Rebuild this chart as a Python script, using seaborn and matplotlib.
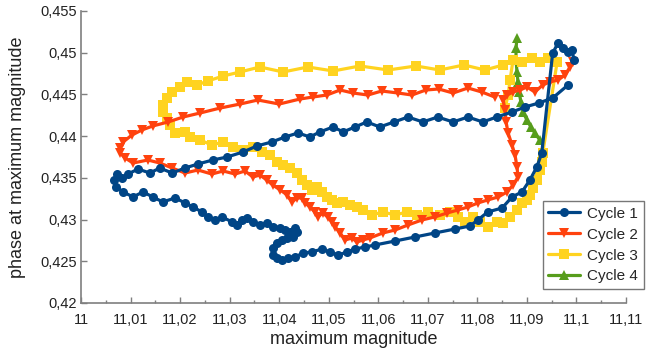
import numpy as np
import pandas as pd
import matplotlib
matplotlib.use("Agg")
import matplotlib.pyplot as plt
import seaborn as sns
from matplotlib.ticker import MultipleLocator, FuncFormatter

sns.set_theme(style="white")
plt.rcParams['font.family'] = ['Liberation Sans', 'DejaVu Sans']

# ---- data ----
cycle1_mag = [11.0983, 11.0952, 11.0924, 11.0896, 11.0870, 11.0839, 11.0811, 11.0781, 11.0751, 11.0720,
              11.0690, 11.0660, 11.0632, 11.0603, 11.0577, 11.0553, 11.0529, 11.0509, 11.0482, 11.0462,
              11.0438, 11.0412, 11.0385, 11.0355, 11.0327, 11.0295, 11.0266, 11.0236, 11.0210, 11.0184,
              11.0159, 11.0139, 11.0115, 11.0095, 11.0083, 11.0073, 11.0067, 11.0071, 11.0085, 11.0105,
              11.0125, 11.0145, 11.0165, 11.0190, 11.0210, 11.0226, 11.0244, 11.0256, 11.0270, 11.0285,
              11.0305, 11.0315, 11.0325, 11.0335, 11.0347, 11.0361, 11.0375, 11.0387, 11.0402, 11.0412,
              11.0422, 11.0432, 11.0436, 11.0428, 11.0416, 11.0406, 11.0396, 11.0387, 11.0387, 11.0396,
              11.0406, 11.0418, 11.0432, 11.0448, 11.0466, 11.0486, 11.0502, 11.0519, 11.0537, 11.0553,
              11.0573, 11.0593, 11.0634, 11.0674, 11.0714, 11.0755, 11.0785, 11.0801, 11.0821, 11.0850,
              11.0870, 11.0890, 11.0906, 11.0920, 11.0930, 11.0952, 11.0963, 11.0973, 11.0983, 11.0991,
              11.0995]
cycle1_phase = [0.44613, 0.44457, 0.44397, 0.44349, 0.44289, 0.44229, 0.44170, 0.44229, 0.44170, 0.44229,
                0.44170, 0.44229, 0.44170, 0.44110, 0.44170, 0.44110, 0.44050, 0.44110, 0.44050, 0.43990,
                0.44038, 0.43990, 0.43930, 0.43882, 0.43810, 0.43750, 0.43714, 0.43666, 0.43618, 0.43558,
                0.43618, 0.43558, 0.43606, 0.43546, 0.43498, 0.43546, 0.43474, 0.43390, 0.43331, 0.43271,
                0.43331, 0.43271, 0.43211, 0.43259, 0.43199, 0.43151, 0.43091, 0.43031, 0.42995, 0.43031,
                0.42971, 0.42935, 0.42995, 0.43019, 0.42971, 0.42935, 0.42959, 0.42911, 0.42899, 0.42875,
                0.42851, 0.42899, 0.42851, 0.42791, 0.42779, 0.42755, 0.42719, 0.42659, 0.42575, 0.42540,
                0.42516, 0.42540, 0.42551, 0.42599, 0.42611, 0.42647, 0.42611, 0.42575, 0.42611, 0.42647,
                0.42671, 0.42695, 0.42743, 0.42791, 0.42839, 0.42887, 0.42923, 0.42995, 0.43091, 0.43139,
                0.43271, 0.43331, 0.43474, 0.43630, 0.43798, 0.44997, 0.45116, 0.45057, 0.45009, 0.45033,
                0.44913]

cycle2_mag = [11.0993, 11.0987, 11.0977, 11.0963, 11.0946, 11.0932, 11.0916, 11.0900, 11.0886, 11.0872,
              11.0860, 11.0852, 11.0856, 11.0858, 11.0862, 11.0870, 11.0876, 11.0880, 11.0882, 11.0872,
              11.0860, 11.0842, 11.0821, 11.0801, 11.0781, 11.0761, 11.0739, 11.0714, 11.0688, 11.0660,
              11.0634, 11.0609, 11.0583, 11.0569, 11.0557, 11.0547, 11.0533, 11.0523, 11.0513, 11.0507,
              11.0498, 11.0488, 11.0478, 11.0472, 11.0462, 11.0452, 11.0446, 11.0436, 11.0426, 11.0416,
              11.0402, 11.0387, 11.0375, 11.0361, 11.0347, 11.0331, 11.0311, 11.0287, 11.0264, 11.0236,
              11.0210, 11.0184, 11.0159, 11.0135, 11.0105, 11.0089, 11.0079, 11.0079, 11.0085, 11.0103,
              11.0123, 11.0145, 11.0176, 11.0206, 11.0240, 11.0281, 11.0321, 11.0357, 11.0400, 11.0442,
              11.0468, 11.0496, 11.0523, 11.0549, 11.0579, 11.0607, 11.0640, 11.0668, 11.0696, 11.0722,
              11.0751, 11.0781, 11.0809, 11.0835]
cycle2_phase = [0.44889, 0.44829, 0.44733, 0.44673, 0.44649, 0.44613, 0.44529, 0.44589, 0.44553, 0.44529,
                0.44493, 0.44433, 0.44313, 0.44170, 0.44038, 0.43894, 0.43774, 0.43630, 0.43510, 0.43414,
                0.43331, 0.43271, 0.43235, 0.43199, 0.43151, 0.43115, 0.43079, 0.43031, 0.42995, 0.42935,
                0.42875, 0.42839, 0.42779, 0.42755, 0.42731, 0.42779, 0.42755, 0.42839, 0.42911, 0.42971,
                0.43031, 0.43079, 0.43031, 0.43091, 0.43151, 0.43199, 0.43259, 0.43259, 0.43211, 0.43295,
                0.43355, 0.43414, 0.43474, 0.43534, 0.43510, 0.43582, 0.43546, 0.43582, 0.43546, 0.43594,
                0.43558, 0.43618, 0.43678, 0.43714, 0.43678, 0.43738, 0.43798, 0.43858, 0.43930, 0.44014,
                0.44074, 0.44122, 0.44170, 0.44229, 0.44277, 0.44337, 0.44385, 0.44433, 0.44385, 0.44445,
                0.44469, 0.44493, 0.44553, 0.44517, 0.44493, 0.44541, 0.44517, 0.44493, 0.44553, 0.44565,
                0.44517, 0.44577, 0.44529, 0.44469]

cycle3_mag = [11.0856, 11.0862, 11.0866, 11.0872, 11.0890, 11.0910, 11.0926, 11.0942, 11.0961, 11.0932,
              11.0930, 11.0926, 11.0920, 11.0912, 11.0906, 11.0900, 11.0890, 11.0880, 11.0866, 11.0852,
              11.0839, 11.0821, 11.0805, 11.0791, 11.0775, 11.0761, 11.0745, 11.0724, 11.0700, 11.0678,
              11.0658, 11.0634, 11.0609, 11.0587, 11.0569, 11.0557, 11.0543, 11.0529, 11.0517, 11.0507,
              11.0496, 11.0486, 11.0476, 11.0466, 11.0456, 11.0446, 11.0436, 11.0422, 11.0408, 11.0396,
              11.0381, 11.0365, 11.0347, 11.0327, 11.0307, 11.0287, 11.0264, 11.0240, 11.0220, 11.0210,
              11.0190, 11.0180, 11.0174, 11.0165, 11.0165, 11.0174, 11.0184, 11.0200, 11.0214, 11.0234,
              11.0256, 11.0287, 11.0321, 11.0361, 11.0408, 11.0458, 11.0509, 11.0563, 11.0620, 11.0676,
              11.0724, 11.0773, 11.0815, 11.0852]
cycle3_phase = [0.44337, 0.44493, 0.44673, 0.44913, 0.44889, 0.44937, 0.44889, 0.44937, 0.44889, 0.43798,
                0.43690, 0.43594, 0.43474, 0.43378, 0.43295, 0.43235, 0.43199, 0.43115, 0.43031, 0.42959,
                0.42971, 0.42911, 0.42971, 0.43031, 0.42971, 0.43031, 0.43091, 0.43055, 0.43091, 0.43055,
                0.43091, 0.43055, 0.43091, 0.43055, 0.43115, 0.43151, 0.43175, 0.43211, 0.43199, 0.43235,
                0.43271, 0.43331, 0.43390, 0.43355, 0.43414, 0.43474, 0.43558, 0.43618, 0.43654, 0.43690,
                0.43774, 0.43810, 0.43870, 0.43834, 0.43870, 0.43930, 0.43894, 0.43954, 0.43990, 0.44050,
                0.44038, 0.44134, 0.44217, 0.44289, 0.44373, 0.44457, 0.44529, 0.44589, 0.44649, 0.44613,
                0.44661, 0.44721, 0.44769, 0.44829, 0.44769, 0.44829, 0.44781, 0.44841, 0.44793, 0.44841,
                0.44793, 0.44853, 0.44793, 0.44853]

cycle4_mag = [11.0880, 11.0878, 11.0878, 11.0880, 11.0882, 11.0884, 11.0888, 11.0892, 11.0900, 11.0908,
              11.0916, 11.0926]
cycle4_phase = [0.45176, 0.45057, 0.44913, 0.44769, 0.44649, 0.44529, 0.44409, 0.44289, 0.44194, 0.44110,
                0.44038, 0.43954]

series_names = ["Cycle 1", "Cycle 2", "Cycle 3", "Cycle 4"]
series_colors = ["#004586", "#ff420e", "#ffd320", "#579d1c"]
series_markers = ["o", "v", "s", "^"]
series_sizes = [6.5, 7, 6.5, 7]

x_ticks = [11.0, 11.01, 11.02, 11.03, 11.04, 11.05, 11.06, 11.07, 11.08, 11.09, 11.1, 11.11]
y_ticks = [0.42, 0.425, 0.43, 0.435, 0.44, 0.445, 0.45, 0.455]

data = [(cycle1_mag, cycle1_phase), (cycle2_mag, cycle2_phase),
        (cycle3_mag, cycle3_phase), (cycle4_mag, cycle4_phase)]

fig = plt.figure(figsize=(6.46, 3.53), dpi=100)
ax = fig.add_axes([81 / 646, 1 - 303 / 353, (626 - 81) / 646, (303 - 11) / 353])

for i in reversed(range(4)):
    mags, phases = data[i]
    df = pd.DataFrame({"mag": mags, "phase": phases})
    sns.lineplot(data=df, x="mag", y="phase", sort=False, estimator=None, ax=ax,
                 color=series_colors[i], marker=series_markers[i], markersize=series_sizes[i],
                 markeredgewidth=0, linewidth=2.3, label=series_names[i], zorder=2 + (4 - i))

ax.set_xlim(x_ticks[0], x_ticks[-1])
ax.set_ylim(y_ticks[0], y_ticks[-1])
ax.set_xticks(x_ticks)
ax.set_yticks(y_ticks)
ax.xaxis.set_minor_locator(MultipleLocator(0.005))


def comma_fmt(v, pos=None):
    s = f"{v:.3f}".rstrip("0").rstrip(".")
    return s.replace(".", ",")


ax.xaxis.set_major_formatter(FuncFormatter(comma_fmt))
ax.yaxis.set_major_formatter(FuncFormatter(comma_fmt))

for side in ["top", "right"]:
    ax.spines[side].set_visible(False)
for side in ["left", "bottom"]:
    ax.spines[side].set_color("#7f7f7f")
    ax.spines[side].set_linewidth(1.2)

ax.tick_params(axis="both", which="major", direction="in", length=4, width=1,
               color="#7f7f7f", labelsize=10.5, labelcolor="#222222")
ax.tick_params(axis="x", which="major", pad=7)
ax.tick_params(axis="y", which="major", pad=3)
ax.tick_params(axis="x", which="minor", direction="in", length=2.5, width=1, color="#7f7f7f")
ax.tick_params(axis="x", which="both", bottom=True)
ax.tick_params(axis="y", which="both", left=True)

ax.set_xlabel("maximum magnitude", fontsize=13, color="#222222", labelpad=3)
ax.set_ylabel("phase at maximum magnitude", fontsize=13, color="#222222", labelpad=10)

h, l = ax.get_legend_handles_labels()
order = [l.index(n) for n in series_names]
leg = ax.legend([h[k] for k in order], [l[k] for k in order],
                loc="upper right", bbox_to_anchor=(644 / 646, 1 - 201 / 353),
                bbox_transform=fig.transFigure, borderaxespad=0, fancybox=False,
                frameon=True, fontsize=11, handlelength=2.1, handletextpad=0.45,
                labelspacing=0.45, borderpad=0.38)
leg.get_frame().set_edgecolor("#555555")
leg.get_frame().set_linewidth(1.0)
leg.set_zorder(20)

fig.savefig("out.png", dpi=100, facecolor="white")
